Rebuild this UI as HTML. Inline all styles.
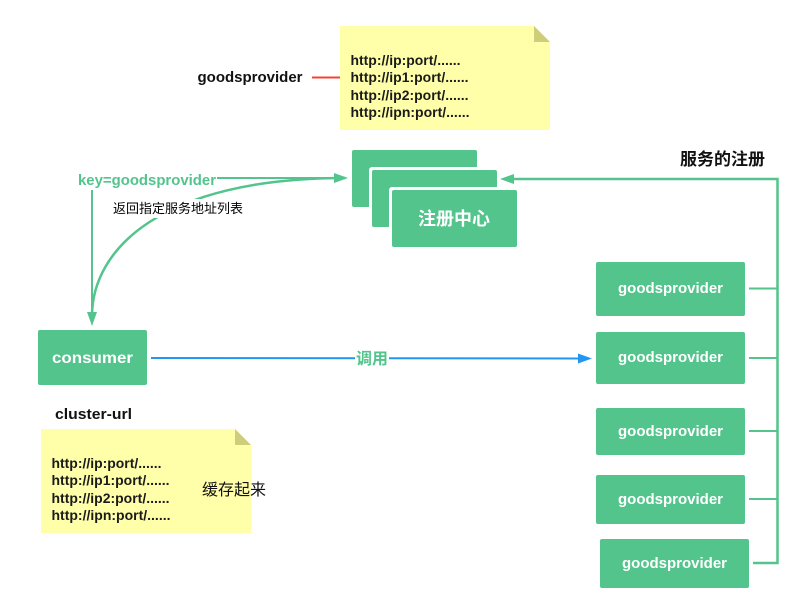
<!DOCTYPE html>
<html><head><meta charset="utf-8"><style>
html,body{margin:0;padding:0;background:#fff}
svg{display:block}
text{font-family:"Liberation Sans","Noto Sans CJK SC",sans-serif}
.b{font-weight:700}
.u{font-size:14px;font-weight:700;fill:#1a1a1a}
</style></head><body>
<svg width="798" height="603" viewBox="0 0 798 603" xmlns="http://www.w3.org/2000/svg">
<rect width="798" height="603" fill="#fff"/>
<!-- top note -->
<path d="M340 26H534L550 42V130H340Z" fill="#ffffa9"/>
<path d="M534 26L550 42H534Z" fill="#cdcd7a"/>
<text x="350.500" y="65" class="u" textLength="110" lengthAdjust="spacingAndGlyphs">http://ip:port/......</text>
<text x="350.500" y="82" class="u" textLength="118" lengthAdjust="spacingAndGlyphs">http://ip1:port/......</text>
<text x="350.500" y="100" class="u" textLength="118" lengthAdjust="spacingAndGlyphs">http://ip2:port/......</text>
<text x="350.500" y="117" class="u" textLength="119" lengthAdjust="spacingAndGlyphs">http://ipn:port/......</text>
<text x="197.500" y="82" class="b" font-size="15" fill="#111" textLength="105" lengthAdjust="spacingAndGlyphs">goodsprovider</text>
<path d="M312 77.500H340" stroke="#f44336" stroke-width="2" fill="none"/>
<!-- cards -->
<rect x="352" y="150" width="125" height="57" rx="2" fill="#52c48c"/>
<rect x="369" y="167" width="131" height="63" rx="3" fill="#fff"/>
<rect x="372" y="170" width="125" height="57" rx="2" fill="#52c48c"/>
<rect x="389" y="187" width="131" height="63" rx="3" fill="#fff"/>
<rect x="392" y="190" width="125" height="57" rx="2" fill="#52c48c"/>
<text x="418" y="225" class="b" font-size="18" fill="#fff" textLength="72" lengthAdjust="spacingAndGlyphs">注册中心</text>
<!-- left connectors -->
<path d="M345 178C160 178 92 250 92 316" stroke="#52c48c" stroke-width="2.500" fill="none"/>
<rect x="112" y="199" width="132" height="19" fill="#fff"/>
<text x="113" y="213" font-size="13" fill="#000" textLength="130" lengthAdjust="spacingAndGlyphs">返回指定服务地址列表</text>
<path d="M217 178H336" stroke="#52c48c" stroke-width="2" fill="none"/>
<path d="M348 178L334 173V183Z" fill="#52c48c"/>
<path d="M92 190V314" stroke="#52c48c" stroke-width="2" fill="none"/>
<path d="M92 326L87 312H97Z" fill="#52c48c"/>
<text x="78" y="185" class="b" font-size="15" fill="#52c48c" textLength="138" lengthAdjust="spacingAndGlyphs">key=goodsprovider</text>
<!-- consumer -->
<rect x="38" y="330" width="109" height="55" rx="2" fill="#52c48c"/>
<text x="52" y="363" font-size="16" class="b" fill="#fff" textLength="81" lengthAdjust="spacingAndGlyphs">consumer</text>
<!-- blue -->
<path d="M151 358L582 358.500" stroke="#2196f3" stroke-width="2" fill="none"/>
<path d="M592 358.500L578 353.500V363.500Z" fill="#2196f3"/>
<rect x="355" y="349" width="34" height="19" fill="#fff"/>
<text x="356" y="364" class="b" font-size="16" fill="#52c48c" textLength="32" lengthAdjust="spacingAndGlyphs">调用</text>
<!-- providers -->
<rect x="596" y="262" width="149" height="54" rx="2" fill="#52c48c"/>
<rect x="596" y="332" width="149" height="52" rx="2" fill="#52c48c"/>
<rect x="596" y="408" width="149" height="47" rx="2" fill="#52c48c"/>
<rect x="596" y="475" width="149" height="49" rx="2" fill="#52c48c"/>
<rect x="600" y="539" width="149" height="49" rx="2" fill="#52c48c"/>
<g font-size="15" class="b" fill="#fff">
<text x="618" y="293" textLength="105" lengthAdjust="spacingAndGlyphs">goodsprovider</text>
<text x="618" y="362" textLength="105" lengthAdjust="spacingAndGlyphs">goodsprovider</text>
<text x="618" y="436" textLength="105" lengthAdjust="spacingAndGlyphs">goodsprovider</text>
<text x="618" y="504" textLength="105" lengthAdjust="spacingAndGlyphs">goodsprovider</text>
<text x="622" y="568" textLength="105" lengthAdjust="spacingAndGlyphs">goodsprovider</text>
</g>
<!-- right bus -->
<path d="M753 563H777.500V179H510" stroke="#52c48c" stroke-width="2.500" fill="none"/>
<path d="M749 288.500H777M749 358H777M749 431H777M749 499H777" stroke="#52c48c" stroke-width="2" fill="none"/>
<path d="M500 179L514 174V184Z" fill="#52c48c"/>
<text x="680" y="165" class="b" font-size="17" fill="#111" textLength="85" lengthAdjust="spacingAndGlyphs">服务的注册</text>
<!-- left note -->
<text x="55" y="419" class="b" font-size="15" fill="#111" textLength="77" lengthAdjust="spacingAndGlyphs">cluster-url</text>
<path d="M41 429H235L251 445V533H41Z" fill="#ffffa9"/>
<path d="M235 429L251 445H235Z" fill="#cdcd7a"/>
<text x="51.500" y="468" class="u" textLength="110" lengthAdjust="spacingAndGlyphs">http://ip:port/......</text>
<text x="51.500" y="485" class="u" textLength="118" lengthAdjust="spacingAndGlyphs">http://ip1:port/......</text>
<text x="51.500" y="503" class="u" textLength="118" lengthAdjust="spacingAndGlyphs">http://ip2:port/......</text>
<text x="51.500" y="520" class="u" textLength="119" lengthAdjust="spacingAndGlyphs">http://ipn:port/......</text>
<text x="202" y="495" font-size="16" fill="#111" textLength="64" lengthAdjust="spacingAndGlyphs">缓存起来</text>
</svg>
</body></html>
